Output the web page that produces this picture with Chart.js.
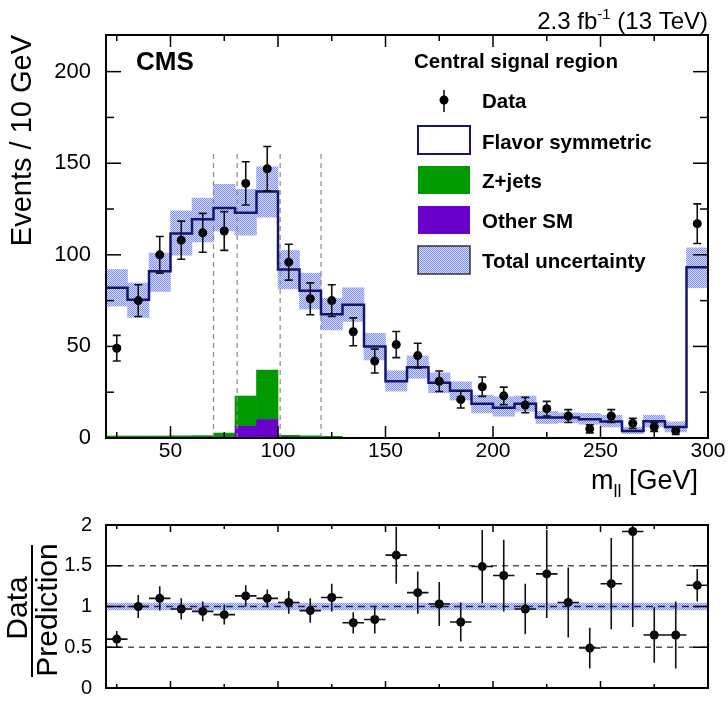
<!DOCTYPE html>
<html>
<head>
<meta charset="utf-8">
<script src="https://cdn.jsdelivr.net/npm/chart.js@4.4.1/dist/chart.umd.min.js"></script>
<style>
  html, body { margin: 0; padding: 0; background: #fff; }
  #wrap { position: relative; width: 728px; height: 706px; }
  #mainChart { position: absolute; left: 0; top: 0; }
  #ratioChart { position: absolute; left: 0; top: 500px; }
</style>
</head>
<body>
<div id="wrap">
  <canvas id="mainChart" width="728" height="500"></canvas>
  <canvas id="ratioChart" width="728" height="206"></canvas>
</div>
<script>
// bin centres of m_ll [GeV], 10 GeV bins from 20 to 300
const massBins = [25, 35, 45, 55, 65, 75, 85, 95, 105, 115, 125, 135, 145, 155,
                  165, 175, 185, 195, 205, 215, 225, 235, 245, 255, 265, 275, 285, 295];
const binWidth = 10;

const dataCounts = [49, 75, 100, 108, 112, 113, 139, 147, 96, 76, 75, 58, 42, 51,
                    45, 31, 21, 28, 23, 18, 16, 12, 5, 12, 8, 6, 4, 117];
const dataErr = [7, 8.7, 10, 10.4, 10.6, 10.6, 11.8, 12.1, 9.8, 8.7, 8.7, 7.6, 6.5, 7.1,
                 6.7, 5.6, 4.6, 5.3, 4.8, 4.2, 4, 3.5, 2.2, 3.5, 2.8, 2.4, 2, 10.8];

// total prediction (flavor symmetric + Z+jets + other SM)
const flavorSymTotal = [82, 75.5, 91, 111.7, 119.4, 125.6, 123, 134.5, 92, 80.4, 67.6, 72.7, 50, 31,
                        38.6, 30.2, 25.8, 18.7, 16.5, 18.7, 11.2, 11.2, 10.3, 9, 3.8, 9.2, 6, 93.2];
const uncHigh = [92, 84.6, 101, 124, 131, 138.5, 135.8, 148, 102.4, 90, 76.2, 82, 57.2, 36.7,
                 44.8, 35.6, 30.7, 23.4, 22.5, 22.9, 14.6, 13.7, 13.4, 12.4, 6, 12.4, 8.8, 103.8];
const uncLow = [72, 65.8, 80, 99.8, 107, 113, 110.7, 120.6, 81.4, 70.4, 59, 63.6, 42.6, 25.6,
                32.6, 24.7, 20.7, 13.7, 11.9, 14.6, 7.9, 8.4, 7.5, 6, 2.4, 6, 3.3, 82];

const otherSM = [0.3, 0.3, 0.3, 0.4, 0.4, 0.6, 6.4, 10.1, 0.6, 0.3, 0.2, 0.1, 0.1, 0.1,
                 0.1, 0, 0, 0, 0, 0, 0, 0, 0, 0, 0, 0, 0, 0];
const zJets = [0.8, 0.8, 0.8, 0.8, 0.9, 2.1, 16.5, 27, 0.9, 0.9, 0.7, 0.2, 0.1, 0.1,
               0.1, 0, 0, 0, 0, 0, 0, 0, 0, 0, 0, 0, 0, 0];

// signal region boundaries (dashed lines)
const regionEdges = [70, 81, 101, 120];
const regionLineTop = 157;

// ratio panel
const ratioValues = [0.60, 1.00, 1.10, 0.97, 0.94, 0.90, 1.13, 1.10, 1.05, 0.95, 1.11, 0.80, 0.84, 1.63,
                     1.17, 1.03, 0.81, 1.49, 1.38, 0.97, 1.40, 1.05, 0.49, 1.28, 1.92, 0.65, 0.65, 1.26];
const ratioErr = [0.10, 0.14, 0.15, 0.13, 0.12, 0.12, 0.13, 0.11, 0.14, 0.15, 0.17, 0.13, 0.17, 0.35,
                  0.26, 0.27, 0.24, 0.45, 0.44, 0.31, 0.54, 0.43, 0.25, 0.56, 1.17, 0.34, 0.41, 0.20];
const ratioUnc = [0.953, 1.047];
const ratioGuides = [0.5, 1.5];

const FONT = '"Liberation Sans", Arial, Helvetica, sans-serif';
const NAVY = '#15156e';
const GREEN = '#009a00';
const PURPLE = '#6a00cc';

function dotPattern() {
    const c = document.createElement('canvas');
    c.width = 2; c.height = 2;
    const g = c.getContext('2d');
    g.fillStyle = '#d6dafb';
    g.fillRect(0, 0, 2, 2);
    g.fillStyle = '#8191ef';
    g.fillRect(0, 0, 1, 1);
    g.fillRect(1, 1, 1, 1);
    return g.createPattern(c, 'repeat');
}
const uncFill = dotPattern();

const onStep = (v, step) => Math.abs(v / step - Math.round(v / step)) < 1e-6;

// inward ticks on all four sides + frame
const framePlugin = {
    id: 'frame',
    afterDraw(chart, args, o) {
        const { ctx, chartArea: a } = chart;
        const xs = chart.scales.x, ys = chart.scales.y;
        ctx.save();
        ctx.strokeStyle = '#000';
        ctx.lineWidth = 1.5;
        const seg = (x1, y1, x2, y2) => { ctx.beginPath(); ctx.moveTo(x1, y1); ctx.lineTo(x2, y2); ctx.stroke(); };
        xs.ticks.forEach(t => {
            if (!onStep(t.value, o.xMinor)) return;
            const px = xs.getPixelForValue(t.value);
            const len = onStep(t.value, o.xMajor) ? o.xMajorLen : o.xMinorLen;
            seg(px, a.bottom, px, a.bottom - len);
            seg(px, a.top, px, a.top + len);
        });
        ys.ticks.forEach(t => {
            if (!onStep(t.value, o.yMinor)) return;
            const py = ys.getPixelForValue(t.value);
            const len = onStep(t.value, o.yMajor) ? o.yMajorLen : o.yMinorLen;
            seg(a.left, py, a.left + len, py);
            seg(a.right, py, a.right - len, py);
        });
        ctx.lineWidth = 2;
        ctx.strokeRect(a.left, a.top, a.right - a.left, a.bottom - a.top);
        ctx.restore();
    }
};

// error bars for datasets carrying an "errors" array
const errorBarPlugin = {
    id: 'errorBars',
    afterDatasetsDraw(chart) {
        const { ctx, chartArea: a } = chart;
        const xs = chart.scales.x, ys = chart.scales.y;
        ctx.save();
        ctx.beginPath();
        ctx.rect(a.left, a.top, a.right - a.left, a.bottom - a.top);
        ctx.clip();
        ctx.strokeStyle = '#111';
        ctx.lineWidth = 1.6;
        chart.data.datasets.forEach(ds => {
            if (!ds.errors) return;
            ds.data.forEach((p, i) => {
                const e = ds.errors[i];
                const px = xs.getPixelForValue(p.x);
                const py = ys.getPixelForValue(p.y);
                const top = ys.getPixelForValue(p.y + e);
                const bot = ys.getPixelForValue(p.y - e);
                ctx.beginPath();
                ctx.moveTo(px, top); ctx.lineTo(px, bot);
                if (ds.capPx) {
                    ctx.moveTo(px - ds.capPx, top); ctx.lineTo(px + ds.capPx, top);
                    ctx.moveTo(px - ds.capPx, bot); ctx.lineTo(px + ds.capPx, bot);
                }
                if (ds.xErr) {
                    ctx.moveTo(xs.getPixelForValue(p.x - ds.xErr), py);
                    ctx.lineTo(xs.getPixelForValue(p.x + ds.xErr), py);
                }
                ctx.stroke();
            });
        });
        ctx.restore();
    }
};

function drawParts(ctx, parts, xRight, baseline) {
    let total = 0;
    parts.forEach(p => { ctx.font = p.font; p.w = ctx.measureText(p.text).width; total += p.w; });
    let x = xRight - total;
    parts.forEach(p => {
        ctx.font = p.font;
        ctx.fillText(p.text, x, baseline + (p.dy || 0));
        x += p.w;
    });
}

const mainDecor = {
    id: 'mainDecor',
    afterDraw(chart) {
        const ctx = chart.ctx;
        ctx.save();
        ctx.fillStyle = '#000';
        ctx.textAlign = 'left';
        ctx.textBaseline = 'alphabetic';

        ctx.font = 'bold 26px ' + FONT;
        ctx.fillText('CMS', 136, 70);

        drawParts(ctx, [
            { text: '2.3 fb', font: '24px ' + FONT },
            { text: '-1', font: '15px ' + FONT, dy: -10 },
            { text: ' (13 TeV)', font: '24px ' + FONT }
        ], 708, 29);

        drawParts(ctx, [
            { text: 'm', font: '27px ' + FONT },
            { text: 'll', font: '18px ' + FONT, dy: 8 },
            { text: ' [GeV]', font: '27px ' + FONT }
        ], 698, 489);

        // legend
        ctx.font = 'bold 20.5px ' + FONT;
        ctx.fillText('Central signal region', 414, 68);
        const tx = 482;
        ctx.fillText('Data', tx, 108);
        ctx.fillText('Flavor symmetric', tx, 149);
        ctx.fillText('Z+jets', tx, 188);
        ctx.fillText('Other SM', tx, 228);
        ctx.fillText('Total uncertainty', tx, 268);

        ctx.strokeStyle = '#111';
        ctx.lineWidth = 1.6;
        ctx.beginPath(); ctx.moveTo(444, 90); ctx.lineTo(444, 112); ctx.stroke();
        ctx.beginPath(); ctx.arc(444, 100, 4.5, 0, Math.PI * 2); ctx.fill();

        ctx.fillStyle = '#fff';
        ctx.fillRect(418, 126, 52, 28);
        ctx.strokeStyle = NAVY; ctx.lineWidth = 2;
        ctx.strokeRect(418, 126, 52, 28);

        ctx.fillStyle = GREEN; ctx.fillRect(418, 166, 52, 28);
        ctx.fillStyle = PURPLE; ctx.fillRect(418, 206, 52, 28);
        ctx.fillStyle = uncFill; ctx.fillRect(418, 246, 52, 28);
        ctx.strokeStyle = '#333'; ctx.lineWidth = 1.5;
        ctx.strokeRect(418, 246, 52, 28);
        ctx.restore();
    }
};

const ratioDecor = {
    id: 'ratioDecor',
    afterDraw(chart) {
        const ctx = chart.ctx;
        ctx.save();
        ctx.fillStyle = '#000';
        ctx.font = '30px ' + FONT;
        ctx.textAlign = 'center';
        ctx.textBaseline = 'alphabetic';
        const rot = (text, x, y) => {
            ctx.save(); ctx.translate(x, y); ctx.rotate(-Math.PI / 2);
            ctx.fillText(text, 0, 0); ctx.restore();
        };
        rot('Data', 27, 108);
        rot('Prediction', 57, 110);
        ctx.fillRect(31, 45, 2, 132);
        ctx.restore();
    }
};

const barStyle = { barPercentage: 1, categoryPercentage: 1, grouped: false, borderWidth: 0, borderSkipped: false };
const xAxisBase = (h, labels) => ({
    type: 'linear', min: 20, max: 300, offset: false,
    grid: { display: false }, border: { display: false },
    ticks: {
        display: labels, stepSize: 25, includeBounds: false, autoSkip: false, maxRotation: 0,
        padding: -7, color: '#000', font: { family: FONT, size: 21 },
        callback: v => onStep(v, 50) ? String(v) : ''
    },
    afterFit: s => { s.height = h; }
});

const stepPoints = massBins.map((m, i) => ({ x: m - binWidth / 2, y: flavorSymTotal[i] }));
stepPoints.push({ x: massBins[massBins.length - 1] + binWidth / 2, y: flavorSymTotal[flavorSymTotal.length - 1] });

new Chart(document.getElementById('mainChart'), {
    type: 'bar',
    data: {
        datasets: [
            {
                type: 'line', label: 'Data', order: 0,
                data: massBins.map((m, i) => ({ x: m, y: dataCounts[i] })),
                errors: dataErr, capPx: 4,
                showLine: false, pointRadius: 4.5, pointBackgroundColor: '#000', pointBorderWidth: 0
            },
            {
                type: 'line', label: 'Flavor symmetric', order: 1,
                data: stepPoints, stepped: 'before',
                borderColor: NAVY, borderWidth: 2.5, pointRadius: 0, fill: false
            },
            ...regionEdges.map(e => ({
                type: 'line', label: 'edge', order: 2,
                data: [{ x: e, y: 0 }, { x: e, y: regionLineTop }],
                borderColor: '#8a8a8a', borderDash: [5, 4], borderWidth: 1.2, pointRadius: 0
            })),
            {
                label: 'Other SM', order: 3, backgroundColor: PURPLE, ...barStyle,
                data: massBins.map((m, i) => ({ x: m, y: [0, otherSM[i]] }))
            },
            {
                label: 'Z+jets', order: 4, backgroundColor: GREEN, ...barStyle,
                data: massBins.map((m, i) => ({ x: m, y: [otherSM[i], otherSM[i] + zJets[i]] }))
            },
            {
                label: 'Total uncertainty', order: 5, backgroundColor: uncFill, ...barStyle,
                data: massBins.map((m, i) => ({ x: m, y: [uncLow[i], uncHigh[i]] }))
            }
        ]
    },
    options: {
        responsive: false,
        animation: false,
        events: [],
        layout: { padding: { top: 35, right: 20, bottom: 0, left: 0 } },
        plugins: {
            legend: { display: false },
            tooltip: { enabled: false },
            frame: { xMinor: 25, xMajor: 50, xMinorLen: 6, xMajorLen: 12, yMinor: 25, yMajor: 50, yMinorLen: 8, yMajorLen: 15 }
        },
        scales: {
            x: xAxisBase(62, true),
            y: {
                min: 0, max: 220,
                grid: { display: false }, border: { display: false },
                ticks: {
                    stepSize: 25, includeBounds: false, padding: 7, color: '#000',
                    font: { family: FONT, size: 22 },
                    callback: v => onStep(v, 50) ? String(v) : ''
                },
                title: {
                    display: true, text: 'Events / 10 GeV', align: 'end', color: '#000',
                    font: { family: FONT, size: 29 }, padding: { top: 6, bottom: 0 }
                },
                afterFit: s => { s.width = 106; }
            }
        }
    },
    plugins: [errorBarPlugin, framePlugin, mainDecor]
});

new Chart(document.getElementById('ratioChart'), {
    type: 'line',
    data: {
        datasets: [
            {
                label: 'Ratio', order: 0,
                data: massBins.map((m, i) => ({ x: m, y: ratioValues[i] })),
                errors: ratioErr, xErr: binWidth / 2,
                showLine: false, pointRadius: 4.5, pointBackgroundColor: '#000', pointBorderWidth: 0
            },
            {
                label: 'one', order: 1,
                data: [{ x: 20, y: 1 }, { x: 300, y: 1 }],
                borderColor: '#1d1d5a', borderDash: [7, 5], borderWidth: 1.5, pointRadius: 0
            },
            ...ratioGuides.map(g => ({
                label: 'guide', order: 2,
                data: [{ x: 20, y: g }, { x: 300, y: g }],
                borderColor: '#555', borderDash: [6, 5], borderWidth: 1.3, pointRadius: 0
            })),
            {
                label: 'uncHigh', order: 3,
                data: [{ x: 20, y: ratioUnc[1] }, { x: 300, y: ratioUnc[1] }],
                borderWidth: 0, pointRadius: 0, fill: false
            },
            {
                label: 'uncLow', order: 4,
                data: [{ x: 20, y: ratioUnc[0] }, { x: 300, y: ratioUnc[0] }],
                borderWidth: 0, pointRadius: 0, fill: '-1', backgroundColor: uncFill
            }
        ]
    },
    options: {
        responsive: false,
        animation: false,
        events: [],
        layout: { padding: { top: 25, right: 20, bottom: 0, left: 0 } },
        plugins: {
            legend: { display: false },
            tooltip: { enabled: false },
            frame: { xMinor: 25, xMajor: 50, xMinorLen: 4, xMajorLen: 7, yMinor: 0.25, yMajor: 0.5, yMinorLen: 8, yMajorLen: 15 }
        },
        scales: {
            x: xAxisBase(8, false),
            y: {
                min: 0, max: 2,
                grid: { display: false }, border: { display: false },
                ticks: {
                    stepSize: 0.25, includeBounds: false, padding: 6, color: '#000',
                    font: { family: FONT, size: 20 },
                    callback: v => onStep(v, 0.5) ? String(v) : ''
                },
                afterFit: s => { s.width = 106; }
            }
        }
    },
    plugins: [errorBarPlugin, framePlugin, ratioDecor]
});
</script>
</body>
</html>
